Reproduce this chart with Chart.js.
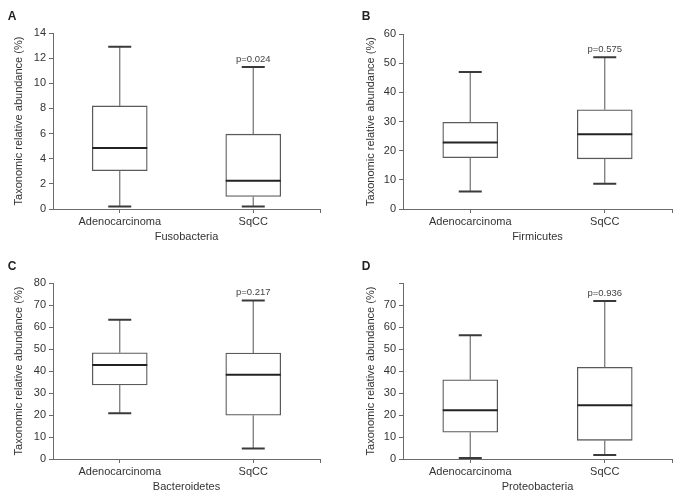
<!DOCTYPE html>
<html>
<head>
<meta charset="utf-8">
<script src="https://cdn.jsdelivr.net/npm/chart.js@4.4.1/dist/chart.umd.min.js"></script>
<style>
  html, body { margin: 0; padding: 0; background: #fff; }
  body { width: 685px; height: 504px; position: relative; overflow: hidden; }
  canvas { position: absolute; }
</style>
</head>
<body>
<canvas id="cA" width="342" height="250" style="left:0;top:0"></canvas>
<canvas id="cB" width="343" height="250" style="left:342px;top:0"></canvas>
<canvas id="cC" width="342" height="254" style="left:0;top:250px"></canvas>
<canvas id="cD" width="343" height="254" style="left:342px;top:250px"></canvas>
<script>
// ---- data ----
const groups = ['Adenocarcinoma', 'SqCC'];
const panelLetters = ['A', 'B', 'C', 'D'];
const taxa = ['Fusobacteria', 'Firmicutes', 'Bacteroidetes', 'Proteobacteria'];
const pLabels = ['p=0.024', 'p=0.575', 'p=0.217', 'p=0.936'];
const minValues    = [[0.2, 0.2], [6.0, 8.7], [20.8, 4.8], [0.5, 1.8]];
const q1Values     = [[3.05, 1.0], [17.6, 17.2], [33.7, 19.9], [12.2, 8.5]];
const medianValues = [[4.85, 2.25], [22.8, 25.6], [42.7, 38.3], [22.2, 24.4]];
const q3Values     = [[8.2, 5.95], [29.7, 34.0], [48.3, 48.2], [36.0, 41.7]];
const maxValues    = [[12.9, 11.3], [47.0, 52.0], [63.3, 72.0], [56.2, 71.8]];
const yMaxTicks  = [14, 60, 80, 80];
const yStepTicks = [2, 10, 10, 10];
const yTopLabelShown = [true, true, true, false];
const yTitle = 'Taxonomic relative abundance (%)';

// ---- layout (per panel) ----
const canvasIds = ['cA', 'cB', 'cC', 'cD'];
const axisWidth = [53, 61, 53, 61];
const xAxisHeight = [41, 41, 45, 45];
const padTop = [33, 34, 33, 33];
const padRight = [22, 13, 22, 13];
const yTitlePad = [12, 22, 12, 22];
const xTitlePadBottom = [6, 6, 10, 10];
const letterX = [12, 24, 12, 24];
const groupPos = [1, 3];

const FONT = "'Liberation Sans', Arial, sans-serif";
const AXIS = '#6a6a6a';

function makeChart(p) {
  const boxPlugin = {
    id: 'box' + p,
    afterDatasetsDraw(chart) {
      const ctx = chart.ctx;
      const xs = chart.scales.x, ys = chart.scales.y;
      ctx.save();
      groups.forEach((g, i) => {
        const x = xs.getPixelForValue(groupPos[i]);
        const yMin = ys.getPixelForValue(minValues[p][i]);
        const yQ1 = ys.getPixelForValue(q1Values[p][i]);
        const yMed = ys.getPixelForValue(medianValues[p][i]);
        const yQ3 = ys.getPixelForValue(q3Values[p][i]);
        const yMax = ys.getPixelForValue(maxValues[p][i]);
        // whiskers
        ctx.strokeStyle = '#707070';
        ctx.lineWidth = 1.2;
        ctx.beginPath();
        ctx.moveTo(x, yMax); ctx.lineTo(x, yQ3);
        ctx.moveTo(x, yQ1); ctx.lineTo(x, yMin);
        ctx.stroke();
        // caps
        ctx.strokeStyle = '#3a3a3a';
        ctx.lineWidth = 2;
        ctx.beginPath();
        ctx.moveTo(x - 11.5, yMax); ctx.lineTo(x + 11.5, yMax);
        ctx.moveTo(x - 11.5, yMin); ctx.lineTo(x + 11.5, yMin);
        ctx.stroke();
        // median
        ctx.strokeStyle = '#222';
        ctx.lineWidth = 2;
        ctx.beginPath();
        ctx.moveTo(x - 27.5, yMed); ctx.lineTo(x + 27.5, yMed);
        ctx.stroke();
        if (i === 1) {
          ctx.fillStyle = '#444';
          ctx.font = '9.5px ' + FONT;
          ctx.textAlign = 'center';
          ctx.textBaseline = 'bottom';
          ctx.fillText(pLabels[p], x, yMax - 3);
        }
      });
      ctx.fillStyle = '#222';
      ctx.font = 'bold 12px ' + FONT;
      ctx.textAlign = 'center';
      ctx.textBaseline = 'middle';
      ctx.fillText(panelLetters[p], letterX[p], 17);
      ctx.restore();
    }
  };

  new Chart(document.getElementById(canvasIds[p]), {
    type: 'bar',
    data: {
      datasets: [{
        data: groups.map((g, i) => ({ x: groupPos[i], y: [q1Values[p][i], q3Values[p][i]] })),
        backgroundColor: '#fff',
        borderColor: '#5a5a5a',
        borderWidth: 1.3,
        borderSkipped: false,
        barThickness: 55
      }]
    },
    options: {
      responsive: false,
      animation: false,
      events: [],
      layout: { padding: { top: padTop[p], right: padRight[p], left: 0, bottom: 0 } },
      plugins: { legend: { display: false }, tooltip: { enabled: false } },
      scales: {
        x: {
          type: 'linear',
          offset: false,
          min: 0, max: 4,
          afterBuildTicks(s) { s.ticks = [1, 3, 4].map(v => ({ value: v })); },
          afterFit(s) { s.height = xAxisHeight[p]; },
          grid: { display: true, offset: false, drawOnChartArea: false, drawTicks: true, tickLength: 4, color: AXIS },
          border: { display: true, color: AXIS, width: 1 },
          ticks: {
            autoSkip: false, maxRotation: 0, padding: 2,
            color: '#333', font: { family: FONT, size: 11 },
            callback(v) { return v === 1 ? groups[0] : (v === 3 ? groups[1] : ''); }
          },
          title: {
            display: true, text: taxa[p], color: '#333',
            font: { family: FONT, size: 11 },
            padding: { top: 0, bottom: xTitlePadBottom[p] }
          }
        },
        y: {
          min: 0, max: yMaxTicks[p],
          afterFit(s) { s.width = axisWidth[p]; },
          grid: { display: true, drawOnChartArea: false, drawTicks: true, tickLength: 4, color: AXIS },
          border: { display: true, color: AXIS, width: 1 },
          ticks: {
            stepSize: yStepTicks[p], padding: 3,
            color: '#333', font: { family: FONT, size: 11 },
            callback(v) { return (v === yMaxTicks[p] && !yTopLabelShown[p]) ? '' : v; }
          },
          title: {
            display: true, text: yTitle, color: '#333',
            font: { family: FONT, size: 11 },
            padding: { top: yTitlePad[p], bottom: 0 }
          }
        }
      }
    },
    plugins: [boxPlugin]
  });
}

[0, 1, 2, 3].forEach(makeChart);
</script>
</body>
</html>
